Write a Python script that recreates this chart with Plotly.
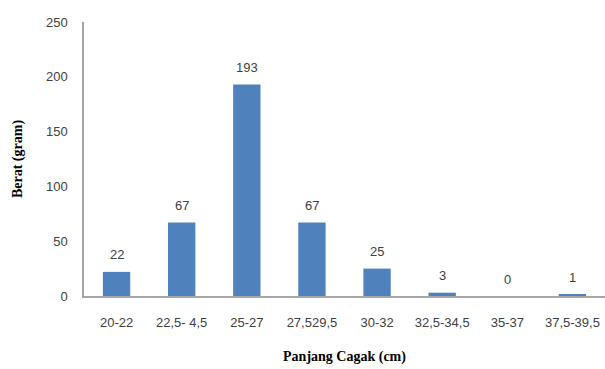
import plotly.graph_objects as go

categories = ["20-22", "22,5- 4,5", "25-27", "27,529,5", "30-32", "32,5-34,5", "35-37", "37,5-39,5"]
values = [22, 67, 193, 67, 25, 3, 0, 1]
y_ticks = [0, 50, 100, 150, 200, 250]

fig = go.Figure()
fig.add_trace(go.Bar(x=categories, y=values, marker=dict(color="#4f81bd", line=dict(width=0)),
                     hoverinfo="skip"))

for c, v in zip(categories, values):
    fig.add_annotation(x=c, y=v, text=str(v), showarrow=False, yanchor="middle", yshift=17,
                       font=dict(family="Liberation Sans", size=13, color="#404040"))

fig.update_layout(
    width=605, height=369,
    margin=dict(l=84, r=0, t=22, b=73),
    paper_bgcolor="white", plot_bgcolor="white",
    showlegend=False, bargap=0.58,
    font=dict(family="Liberation Sans", size=13, color="#404040"),
)
fig.update_xaxes(
    type="category", showline=True, linecolor="#a6a6a6", linewidth=1.5,
    showgrid=False, ticks="", ticklabelstandoff=14,
    tickfont=dict(family="Liberation Sans", size=13, color="#404040"),
    title=dict(text="<b>Panjang Cagak (cm)</b>", standoff=22,
               font=dict(family="Liberation Serif", size=14, color="#000000")),
)
fig.update_yaxes(
    range=[0, 250], tickvals=y_ticks, showline=True, linecolor="#a6a6a6", linewidth=1.5,
    showgrid=False, ticks="", zeroline=False, ticklabelstandoff=12,
    tickfont=dict(family="Liberation Sans", size=13, color="#404040"),
    title=dict(text="<b>Berat (gram)</b>", standoff=20,
               font=dict(family="Liberation Serif", size=14, color="#000000")),
)

fig.write_html("out.html")
